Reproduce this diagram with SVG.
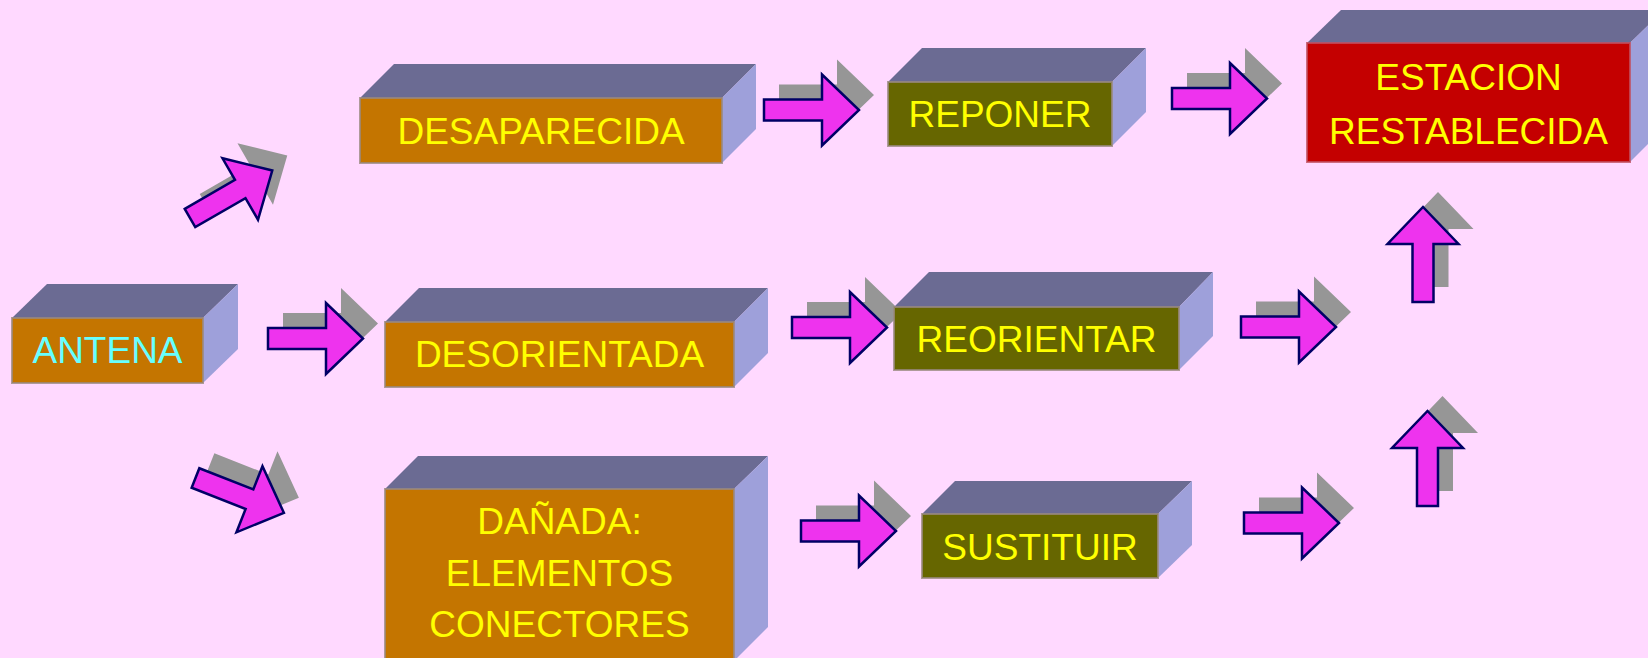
<svg xmlns="http://www.w3.org/2000/svg" xmlns:xlink="http://www.w3.org/1999/xlink" width="1648" height="658" viewBox="0 0 1648 658">
<style>
.top{fill:#6B6B93}
.side{fill:#9EA0DA}
.front{stroke:#9a8a80;stroke-width:2;stroke-opacity:0.8}
.orange{fill:#C47500}
.olive{fill:#666600}
.red{fill:#C40000;stroke:#c05060}
.t{font-family:"Liberation Sans",Arial,sans-serif;font-size:37px;fill:#FFFF00;text-anchor:middle}
.cyan{fill:#66FFFF}
.sh{fill:#969696}
.ar{fill:#EE33EE;stroke:#000066;stroke-width:2.5;stroke-linejoin:miter}
</style>
<defs>
<path id="arr" d="M0,-10.5 H58 V-35.5 L95,0 L58,35.5 V10.5 H0 Z"/>
</defs>
<rect width="1648" height="658" fill="#FFD9FF"/>

<g id="connectors">
<!-- ANTENA -> DESAPARECIDA (diagonal up) -->
<use xlink:href="#arr" class="sh" transform="translate(205,203) rotate(-30)"/>
<use xlink:href="#arr" class="ar" transform="translate(190,218) rotate(-30)"/>
<!-- ANTENA -> DESORIENTADA -->
<use xlink:href="#arr" class="sh" transform="translate(283,323.5)"/>
<use xlink:href="#arr" class="ar" transform="translate(268,338.5)"/>
<!-- ANTENA -> DANADA (diagonal down) -->
<use xlink:href="#arr" class="sh" transform="translate(210.5,463) rotate(21.5)"/>
<use xlink:href="#arr" class="ar" transform="translate(195.5,478) rotate(21.5)"/>
<!-- DESAPARECIDA -> REPONER -->
<use xlink:href="#arr" class="sh" transform="translate(779,95)"/>
<use xlink:href="#arr" class="ar" transform="translate(764,110)"/>
<!-- REPONER -> ESTACION -->
<use xlink:href="#arr" class="sh" transform="translate(1187,83.5)"/>
<use xlink:href="#arr" class="ar" transform="translate(1172,98.5)"/>
<!-- DESORIENTADA -> REORIENTAR -->
<use xlink:href="#arr" class="sh" transform="translate(807,312.5)"/>
<use xlink:href="#arr" class="ar" transform="translate(792,327.5)"/>
<!-- REORIENTAR -> -->
<use xlink:href="#arr" class="sh" transform="translate(1256,312)"/>
<use xlink:href="#arr" class="ar" transform="translate(1241,327)"/>
<!-- DANADA -> SUSTITUIR -->
<use xlink:href="#arr" class="sh" transform="translate(816,516)"/>
<use xlink:href="#arr" class="ar" transform="translate(801,531)"/>
<!-- SUSTITUIR -> -->
<use xlink:href="#arr" class="sh" transform="translate(1259,508)"/>
<use xlink:href="#arr" class="ar" transform="translate(1244,523)"/>
<!-- up arrows -->
<use xlink:href="#arr" class="sh" transform="translate(1438,287) rotate(-90)"/>
<use xlink:href="#arr" class="ar" transform="translate(1423,302) rotate(-90)"/>
<use xlink:href="#arr" class="sh" transform="translate(1442.5,491) rotate(-90)"/>
<use xlink:href="#arr" class="ar" transform="translate(1427.5,506) rotate(-90)"/>
</g>

<g id="antena">
<polygon class="top" points="12,318 47,284 238,284 203,318"/>
<polygon class="side" points="203,318 238,284 238,349 203,383"/>
<rect class="front orange" x="12" y="318" width="191" height="65"/>
<text class="t cyan" x="107.5" y="363">ANTENA</text>
</g>

<g id="desaparecida">
<polygon class="top" points="360,98 394,64 756,64 722,98"/>
<polygon class="side" points="722,98 756,64 756,129 722,163"/>
<rect class="front orange" x="360" y="98" width="362" height="65"/>
<text class="t" x="541" y="144">DESAPARECIDA</text>
</g>

<g id="desorientada">
<polygon class="top" points="385,322 419,288 768,288 734,322"/>
<polygon class="side" points="734,322 768,288 768,353 734,387"/>
<rect class="front orange" x="385" y="322" width="349" height="65"/>
<text class="t" x="559.5" y="367">DESORIENTADA</text>
</g>

<g id="danada">
<polygon class="top" points="385,489 418,456 768,456 734,489"/>
<polygon class="side" points="734,489 768,456 768,627 734,661"/>
<rect class="front orange" x="385" y="489" width="349" height="175"/>
<text class="t" x="559.5" y="534">DAÑADA:</text>
<text class="t" x="559.5" y="586">ELEMENTOS</text>
<text class="t" x="559.5" y="637">CONECTORES</text>
</g>

<g id="reponer">
<polygon class="top" points="888,82 922,48 1146,48 1112,82"/>
<polygon class="side" points="1112,82 1146,48 1146,112 1112,146"/>
<rect class="front olive" x="888" y="82" width="224" height="64"/>
<text class="t" x="1000" y="127">REPONER</text>
</g>

<g id="reorientar">
<polygon class="top" points="894,307 929,272 1213,272 1179,307"/>
<polygon class="side" points="1179,307 1213,272 1213,336 1179,370"/>
<rect class="front olive" x="894" y="307" width="285" height="63"/>
<text class="t" x="1036.5" y="352">REORIENTAR</text>
</g>

<g id="sustituir">
<polygon class="top" points="922,514 955,481 1192,481 1158,514"/>
<polygon class="side" points="1158,514 1192,481 1192,545 1158,578"/>
<rect class="front olive" x="922" y="514" width="236" height="64"/>
<text class="t" x="1040" y="560">SUSTITUIR</text>
</g>

<g id="estacion">
<polygon class="top" points="1307,43 1341,10 1664,10 1630,43"/>
<polygon class="side" points="1630,43 1664,10 1664,128 1630,162"/>
<rect class="front red" x="1307" y="43" width="323" height="119"/>
<text class="t" x="1468.5" y="90">ESTACION</text>
<text class="t" x="1468.5" y="144">RESTABLECIDA</text>
</g>
</svg>
